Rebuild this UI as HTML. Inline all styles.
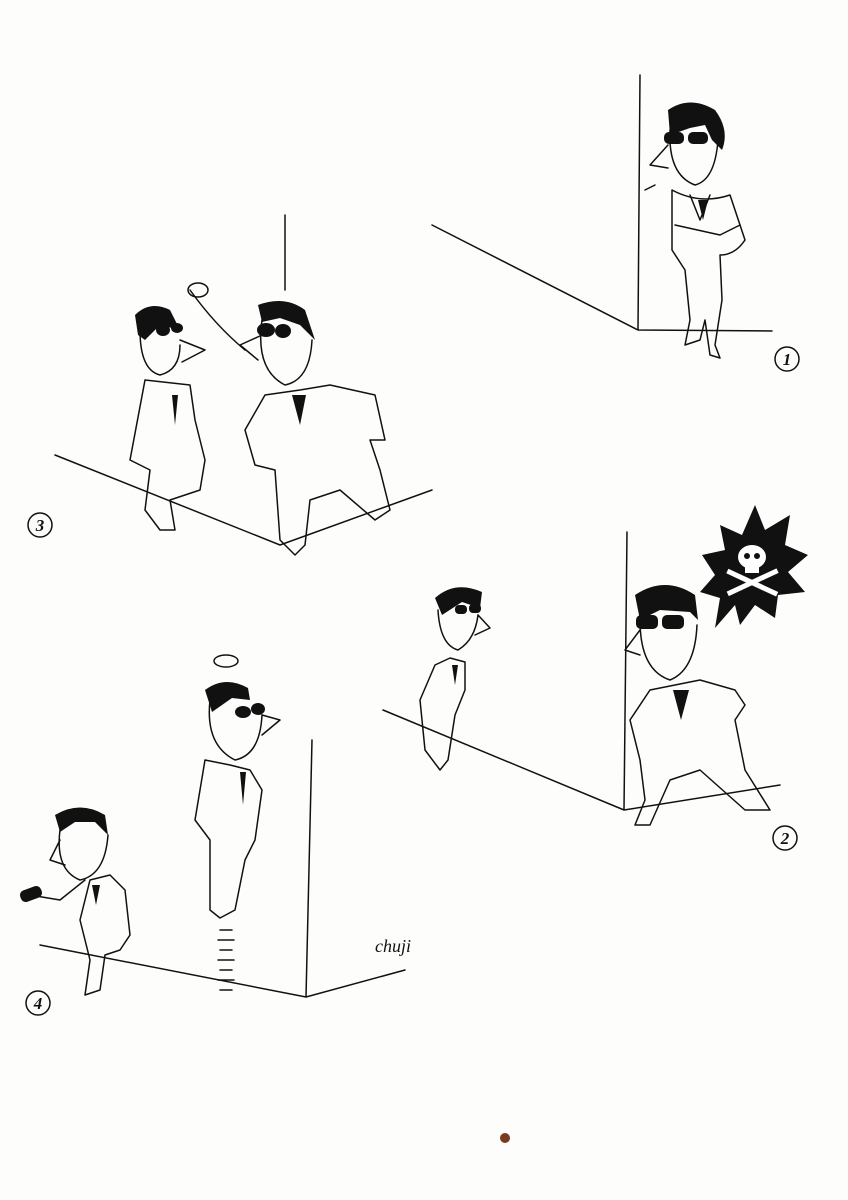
<!DOCTYPE html>
<html><head><meta charset="utf-8"><style>
html,body{margin:0;padding:0;background:#fdfdfb;}
svg{display:block;}
text{font-family:"Liberation Serif",serif;}
</style></head><body>
<svg width="848" height="1200" viewBox="0 0 848 1200" xmlns="http://www.w3.org/2000/svg">
<rect width="848" height="1200" fill="#fdfdfb"/>
<g stroke="#111" stroke-width="1.5" fill="none" stroke-linecap="round" stroke-linejoin="round">
<!-- Panel 1 walls -->
<path d="M640 75 L638 330 M432 225 L638 330 L772 331"/>
<!-- Panel 3 walls -->
<path d="M285 215 L285 290 M55 455 L280 545 L432 490"/>
<!-- Panel 2 walls -->
<path d="M627 532 L624 810 M383 710 L624 810 L780 785"/>
<!-- Panel 4 walls -->
<path d="M312 740 L306 997 M40 945 L306 997 L405 970"/>

<!-- Figure 1 -->
<path d="M672 190 Q700 205 730 195 L745 240 Q735 255 720 255 L722 300 L715 345 L720 358 L710 355 L705 320 L700 340 L685 345 L690 320 L685 270 L672 250 Z"/>
<path d="M670 130 Q668 175 695 185 Q715 180 718 140"/>
<path d="M668 145 L650 165 L668 168"/>
<path d="M655 185 L645 190 M690 195 L700 220 L710 195"/>
<path d="M675 225 L720 235 L740 225"/>
<!-- Figure 3 left -->
<path d="M140 330 Q140 370 160 375 Q180 370 180 345"/>
<path d="M180 340 L205 350 L182 362"/>
<path d="M145 380 L130 460 L150 470 L145 510 L160 530 L175 530 L170 500 L200 490 L205 460 L195 420 L190 385 Z"/>
<!-- Figure 3 right -->
<path d="M262 320 Q255 370 285 385 Q310 380 312 340"/>
<path d="M262 335 L240 345 L258 360"/>
<path d="M265 395 L245 430 L255 465 L275 470 L280 540 L295 555 L305 545 L310 500 L340 490 L375 520 L390 510 L380 470 L370 440 L385 440 L375 395 L330 385 L300 390 Z"/>
<path d="M190 290 Q215 325 245 350"/>
<ellipse cx="198" cy="290" rx="10" ry="7"/>
<!-- Figure 2 left -->
<path d="M438 610 Q440 645 458 650 Q475 640 478 615"/>
<path d="M478 615 L490 628 L475 635"/>
<path d="M435 665 L420 700 L425 750 L440 770 L448 760 L455 715 L465 690 L465 662 L450 658 Z"/>
<!-- Figure 2 right -->
<path d="M640 620 Q640 670 670 680 Q695 670 697 625"/>
<path d="M640 630 L625 650 L640 655"/>
<path d="M650 690 L630 720 L640 760 L645 800 L635 825 L650 825 L670 780 L700 770 L745 810 L770 810 L745 770 L735 720 L745 705 L735 690 L700 680 Z"/>
<!-- Figure 4 left -->
<path d="M60 830 Q55 870 80 880 Q105 875 108 835"/>
<path d="M60 840 L50 860 L65 865"/>
<path d="M85 880 L60 900 L30 895 M90 880 L80 920 L90 960 L85 995 L100 990 L105 955 L120 950 L130 935 L125 890 L110 875 Z"/>
<!-- Figure 4 middle floating -->
<path d="M210 700 Q205 745 235 760 Q260 755 262 715"/>
<path d="M262 715 L280 720 L262 735"/>
<path d="M205 760 L195 820 L210 840 L210 910 L220 918 L235 910 L245 860 L255 840 L262 790 L250 770 L230 765 Z"/>
<path d="M220 930 L232 930 M218 940 L234 940 M220 950 L232 950 M218 960 L234 960 M220 970 L232 970 M218 980 L234 980 M220 990 L232 990"/>
<ellipse cx="226" cy="661" rx="12" ry="6"/>
<!-- numbers -->
<circle cx="787" cy="359" r="12"/>
<circle cx="40" cy="525" r="12"/>
<circle cx="785" cy="838" r="12"/>
<circle cx="38" cy="1003" r="12"/>
</g>
<!-- numbers text -->
<g font-size="17" font-weight="bold" font-style="italic" text-anchor="middle" fill="#111">
<text x="787" y="365">1</text><text x="40" y="531">3</text><text x="785" y="844">2</text><text x="38" y="1009">4</text>
</g>
<!-- hair and glasses -->
<g fill="#111">
<path d="M668 110 Q690 95 715 110 Q730 130 722 150 L712 140 L705 125 L690 128 L670 135 Z"/>
<rect x="664" y="132" width="20" height="12" rx="5"/><rect x="688" y="132" width="20" height="12" rx="5"/>
<path d="M135 315 Q150 300 170 310 L180 330 L160 325 L145 340 L138 335 Z"/>
<ellipse cx="163" cy="330" rx="7" ry="6"/><ellipse cx="177" cy="328" rx="6" ry="5"/>
<path d="M258 305 Q285 295 305 310 L315 340 L300 325 L280 318 L262 322 Z"/>
<ellipse cx="266" cy="330" rx="9" ry="7"/><ellipse cx="283" cy="331" rx="8" ry="7"/>
<path d="M435 598 Q455 580 482 592 L480 608 L462 602 L442 615 Z"/>
<rect x="455" y="605" width="12" height="9" rx="4"/><rect x="469" y="604" width="12" height="9" rx="4"/>
<path d="M635 595 Q665 575 695 595 L698 620 L690 612 L660 610 L640 620 Z"/>
<rect x="636" y="615" width="22" height="14" rx="5"/><rect x="662" y="615" width="22" height="14" rx="5"/>
<path d="M205 690 Q225 675 248 688 L250 700 L232 698 L212 712 Z"/>
<ellipse cx="243" cy="712" rx="8" ry="6"/><ellipse cx="258" cy="709" rx="7" ry="6"/>
<path d="M55 815 Q80 800 105 815 L108 835 L95 822 L75 822 L60 832 Z"/>
<rect x="20" y="888" width="22" height="12" rx="5" transform="rotate(-20 31 894)"/>
<!-- ties -->
<path d="M698 200 L703 220 L708 200 Z"/><path d="M172 395 L175 425 L178 395 Z"/>
<path d="M292 395 L300 425 L306 395 Z"/><path d="M452 665 L455 685 L458 665 Z"/>
<path d="M673 690 L681 720 L689 690 Z"/><path d="M240 772 L243 805 L246 772 Z"/>
<path d="M92 885 L96 905 L100 885 Z"/>
<!-- skull burst -->
<path d="M755 505 L765 530 L790 515 L785 545 L808 555 L788 572 L805 592 L778 595 L775 618 L755 605 L740 625 L735 605 L715 628 L720 598 L700 592 L715 575 L702 555 L725 550 L720 525 L742 535 Z"/>
</g>
<g fill="#fff">
<ellipse cx="752" cy="557" rx="14" ry="12"/><rect x="745" y="565" width="14" height="8"/>
<rect x="725" y="580" width="55" height="5" transform="rotate(25 752 582)"/>
<rect x="725" y="580" width="55" height="5" transform="rotate(-25 752 582)"/>
</g>
<g fill="#111"><circle cx="747" cy="556" r="3"/><circle cx="757" cy="556" r="3"/></g>
<text x="375" y="952" font-size="18" font-style="italic" fill="#111">chuji</text>
<circle cx="505" cy="1138" r="5" fill="#7a3a20"/>
</svg>
</body></html>
